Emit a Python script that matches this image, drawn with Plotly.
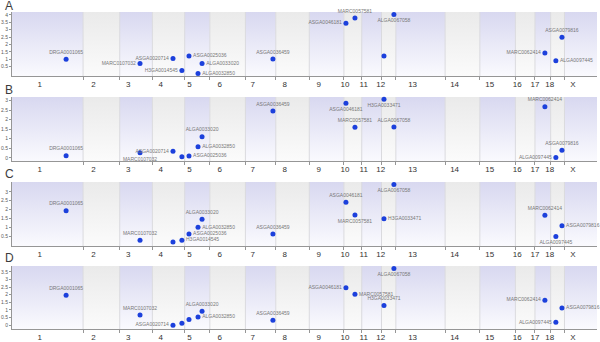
import plotly.graph_objects as go

# Pig chromosomes and their lengths (Mb)
chrom_names = ["1", "2", "3", "4", "5", "6", "7", "8", "9", "10",
               "11", "12", "13", "14", "15", "16", "17", "18", "X"]
chrom_len_mb = [315.3, 162.6, 144.8, 143.5, 111.5, 157.8, 134.8, 148.5, 153.7, 79.1,
                87.7, 63.6, 218.6, 154.0, 157.7, 86.9, 69.7, 61.2, 144.3]

# SNP markers: chromosome and position (Mb)
snp_names = ["DRGA0001065", "MARC0107032", "ASGA0020714", "H3GA0014545", "ASGA0025036",
             "ALGA0032850", "ALGA0033020", "ASGA0036459", "ASGA0046181", "MARC0057581",
             "H3GA0033471", "ALGA0067058", "MARC0062414", "ALGA0097445", "ASGA0079816"]
snp_chrom = ["1", "3", "4", "4", "5", "5", "5", "7", "10", "10", "12", "12", "17", "18", "18"]
snp_pos_mb = [240, 90, 91.5, 131, 19, 59, 77, 122, 9, 49, 11, 55, 44, 23, 50]

# Association values for the four traits
values_a = [1.0, 0.7, 1.05, 0.24, 1.22, 0.03, 0.7, 1.01, 3.44, 3.8, 1.22, 4.03, 1.42, 0.9, 2.48]
values_b = [0.1, 0.26, 0.34, 0.05, 0.09, 0.58, 1.1, 2.46, 2.86, 1.6, 3.07, 1.62, 2.68, 0.02, 0.4]
values_c = [1.93, 0.28, 0.17, 0.28, 0.63, 1.0, 1.46, 0.63, 2.41, 1.7, 1.48, 3.41, 1.68, 0.48, 1.09]
values_d = [1.96, 0.66, 0.0, 0.13, 0.38, 0.53, 0.91, 0.32, 2.46, 2.02, 1.29, 3.71, 1.64, 0.19, 1.13]

# Which side of each marker its name is written on ("" = unlabelled)
T, B_, L, R = "top center", "bottom center", "middle left", "middle right"
label_pos_a = [T, L, L, L, R, R, R, T, L, T, "", B_, L, R, T]
label_pos_b = [T, B_, L, "", R, R, T, T, B_, T, B_, T, T, L, T]
label_pos_c = [T, T, "", R, R, R, T, T, T, B_, R, B_, T, B_, R]
label_pos_d = [T, T, L, "", "", R, T, T, L, R, T, B_, L, L, R]

panel_titles = ["A", "B", "C", "D"]
panel_values = [values_a, values_b, values_c, values_d]
panel_labels = [label_pos_a, label_pos_b, label_pos_c, label_pos_d]
y_ranges = [[-0.14, 4.2], [-0.17, 3.19], [-0.05, 3.55], [-0.25, 3.88]]
y_ticks = [[0.5, 1, 1.5, 2, 2.5, 3, 3.5, 4],
           [0, 0.5, 1, 1.5, 2, 2.5, 3],
           [0.5, 1, 1.5, 2, 2.5, 3],
           [0, 0.5, 1, 1.5, 2, 2.5, 3, 3.5]]

# ---- genome coordinates ----
starts = []
acc = 0.0
for ln in chrom_len_mb:
    starts.append(acc)
    acc += ln
genome_end = acc
chrom_start = dict(zip(chrom_names, starts))
snp_x = [chrom_start[c] + p for c, p in zip(snp_chrom, snp_pos_mb)]
boundaries = starts[1:]
tick_shift = 35.0
label_x = [s + ln / 2 - tick_shift for s, ln in zip(starts, chrom_len_mb)]

W, H = 600, 342
plot_px = [(12, 76), (97, 161), (182, 246), (266, 329)]
title_px = [6, 90, 174, 258]
x_dom = [12 / W, 597 / W]

FONT = "Liberation Sans, Arial, sans-serif"
BLUE_SCALE = [[0, "rgb(250,250,254)"], [1, "rgb(216,216,240)"]]
GRAY_SCALE = [[0, "rgb(251,251,251)"], [1, "rgb(234,234,234)"]]

fig = go.Figure()
layout = dict(
    width=W, height=H, margin=dict(l=0, r=0, t=0, b=0),
    paper_bgcolor="white", plot_bgcolor="white", showlegend=False,
    font=dict(family=FONT), annotations=[],
)

for i in range(4):
    sfx = "" if i == 0 else str(i + 1)
    xa, ya = "x" + sfx, "y" + sfx
    y0, y1 = y_ranges[i]

    # alternating chromosome bands with a vertical fade
    for k, (s, ln) in enumerate(zip(starts, chrom_len_mb)):
        fig.add_trace(go.Scatter(
            x=[s, s + ln, s + ln, s, s], y=[y0, y0, y1, y1, y0],
            mode="lines", line=dict(width=0), fill="toself",
            fillgradient=dict(type="vertical",
                              colorscale=BLUE_SCALE if k % 2 == 0 else GRAY_SCALE,
                              start=y0, stop=y1),
            hoverinfo="skip", xaxis=xa, yaxis=ya))

    # thin separators between chromosomes
    sx, sy = [], []
    for b in boundaries:
        sx += [b, b, None]
        sy += [y0, y1, None]
    fig.add_trace(go.Scatter(x=sx, y=sy, mode="lines",
                             line=dict(color="rgb(218,218,222)", width=1),
                             hoverinfo="skip", xaxis=xa, yaxis=ya))

    # markers with their names
    pos = panel_labels[i]
    texts = [n if p else "" for n, p in zip(snp_names, pos)]
    tpos = [p if p else "top center" for p in pos]
    fig.add_trace(go.Scatter(
        x=snp_x, y=panel_values[i], mode="markers+text",
        marker=dict(size=5, color="rgb(28,64,220)"),
        text=texts, textposition=tpos, cliponaxis=False,
        textfont=dict(size=5, color="rgb(120,120,120)", family=FONT),
        xaxis=xa, yaxis=ya))

    top_px, bot_px = plot_px[i]
    layout["xaxis" + sfx] = dict(
        domain=x_dom, anchor=ya, range=[0, genome_end],
        showgrid=False, zeroline=False, showline=True,
        linecolor="rgb(150,150,150)", linewidth=1,
        tickmode="array", tickvals=label_x, ticktext=chrom_names,
        ticks="", tickfont=dict(size=8, color="rgb(50,50,50)", family=FONT),
        minor=dict(tickmode="array", tickvals=boundaries, ticks="outside",
                   ticklen=3, tickcolor="rgb(150,150,150)", showgrid=False),
        automargin=False, fixedrange=True,
    )
    layout["yaxis" + sfx] = dict(
        domain=[1 - bot_px / H, 1 - top_px / H], anchor=xa, range=[y0, y1],
        showgrid=False, zeroline=False, showline=True,
        linecolor="rgb(150,150,150)", linewidth=1,
        tickmode="array", tickvals=y_ticks[i],
        ticks="outside", ticklen=2, tickcolor="rgb(150,150,150)",
        tickfont=dict(size=5, color="rgb(90,90,90)", family=FONT),
        automargin=False, fixedrange=True,
    )
    layout["annotations"].append(dict(
        text=panel_titles[i], xref="paper", yref="paper",
        x=9 / W, y=1 - title_px[i] / H, xanchor="center", yanchor="middle",
        showarrow=False, font=dict(size=12, color="rgb(60,60,60)", family=FONT)))

fig.update_layout(**layout)
fig.write_html("out.html")
